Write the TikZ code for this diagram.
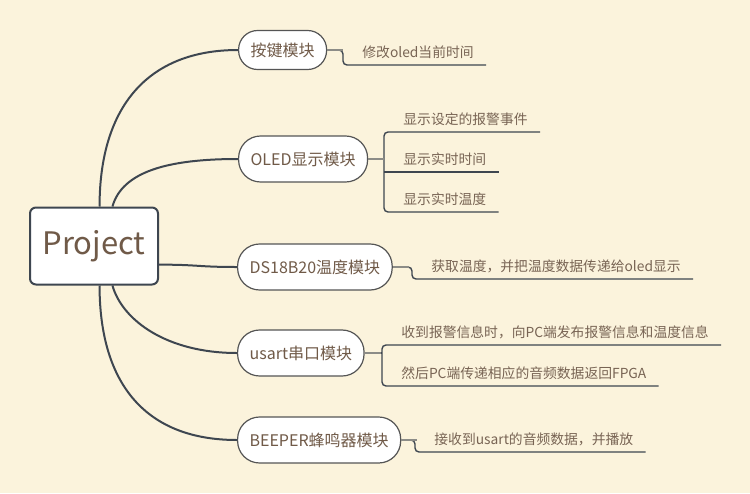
\documentclass[tikz,border=0pt]{standalone}
\usepackage{fontspec}
\setmainfont{Noto Sans CJK SC}
\usetikzlibrary{positioning}
\definecolor{paper}{RGB}{251,243,220}
\definecolor{edge}{RGB}{62,70,80}
\definecolor{rim}{RGB}{85,85,85}
\definecolor{ink}{RGB}{112,90,72}
\definecolor{leafink}{RGB}{120,100,84}
\definecolor{stubgray}{RGB}{140,140,135}
\begin{document}
\begin{tikzpicture}[
  x=0.5pt,y=-0.5pt,
  root/.style={draw=edge,line width=1pt,fill=white,rounded corners=3pt,minimum width=64pt,minimum height=38.5pt,text=ink,font=\fontsize{15.5}{17}\selectfont},
  branch/.style={draw=rim,line width=0.6pt,fill=white,rounded corners=11pt,minimum height=23pt,inner xsep=6pt,text=ink,font=\fontsize{8}{10}\selectfont,anchor=west},
  leaf/.style={inner xsep=6pt,inner ysep=0pt,minimum height=12.5pt,text=leafink,font=\fontsize{6.9}{8}\selectfont,anchor=south west},
  trunk/.style={draw=edge,line width=1pt},
  twig/.style={draw=edge,line width=0.7pt,rounded corners=2pt},
  stub/.style={draw=stubgray,line width=1.2pt}
]
\fill[paper] (0,0) rectangle (750,493);
% root and modules
\node[root] (project) at (94,246) {Project};
\node[branch,minimum height=19.5pt,rounded corners=9.5pt] (keys) at (238,50) {按键模块};
\node[branch] (oled) at (238,159) {OLED显示模块};
\node[branch] (ds) at (237,267) {DS18B20温度模块};
\node[branch] (usart) at (237,353) {usart串口模块};
\node[branch] (beeper) at (237,440) {BEEPER蜂鸣器模块};
\draw[trunk] (project.82) .. controls +(0,-100) and +(-90,0) .. (keys.west);
\draw[trunk] (project.65) .. controls +(10,-35) and +(-70,0) .. (oled.west);
\draw[trunk] (project.-16) .. controls +(40,0) and +(-40,0) .. (ds.west);
\draw[trunk] (project.-65) .. controls +(10,35) and +(-70,0) .. (usart.west);
\draw[trunk] (project.-82) .. controls +(0,100) and +(-90,0) .. (beeper.west);
% leaves
\coordinate (kj) at (343,65);
\node[leaf] (kl) at (350,65) {修改oled当前时间};
\draw[twig] (keys.east) -| (kj) -- (kl.south east);
\coordinate (oj) at (384,159);
\node[leaf] (ol1) at (391,132) {显示设定的报警事件};
\node[leaf] (ol2) at (391,172) {显示实时时间};
\node[leaf] (ol3) at (391,212) {显示实时温度};
\draw[twig] (ol1.south east) -| (oj) |- (ol3.south east);
\draw[twig] (oj |- ol2.south) -- (ol2.south east);
\draw[twig] (oled.east) -- (oj);
\coordinate (dj) at (412,279);
\node[leaf] (dl) at (419,279) {获取温度，并把温度数据传递给oled显示};
\draw[twig] (ds.east) -| (dj) -- (dl.south east);
\coordinate (uj) at (382,353);
\node[leaf] (ul1) at (389,345) {收到报警信息时，向PC端发布报警信息和温度信息};
\node[leaf] (ul2) at (389,386) {然后PC端传递相应的音频数据返回FPGA};
\draw[twig] (ul1.south east) -| (uj) |- (ul2.south east);
\draw[twig] (usart.east) -- (uj);
\coordinate (bj) at (415,452);
\node[leaf] (bl) at (422,452) {接收到usart的音频数据，并播放};
\draw[twig] (beeper.east) -| (bj) -- (bl.south east);
% grey stubs next to the modules
\foreach \m in {keys,oled,ds,usart,beeper}
  \draw[stub] (\m.east) -- ++(16,0);
\end{tikzpicture}
\end{document}
